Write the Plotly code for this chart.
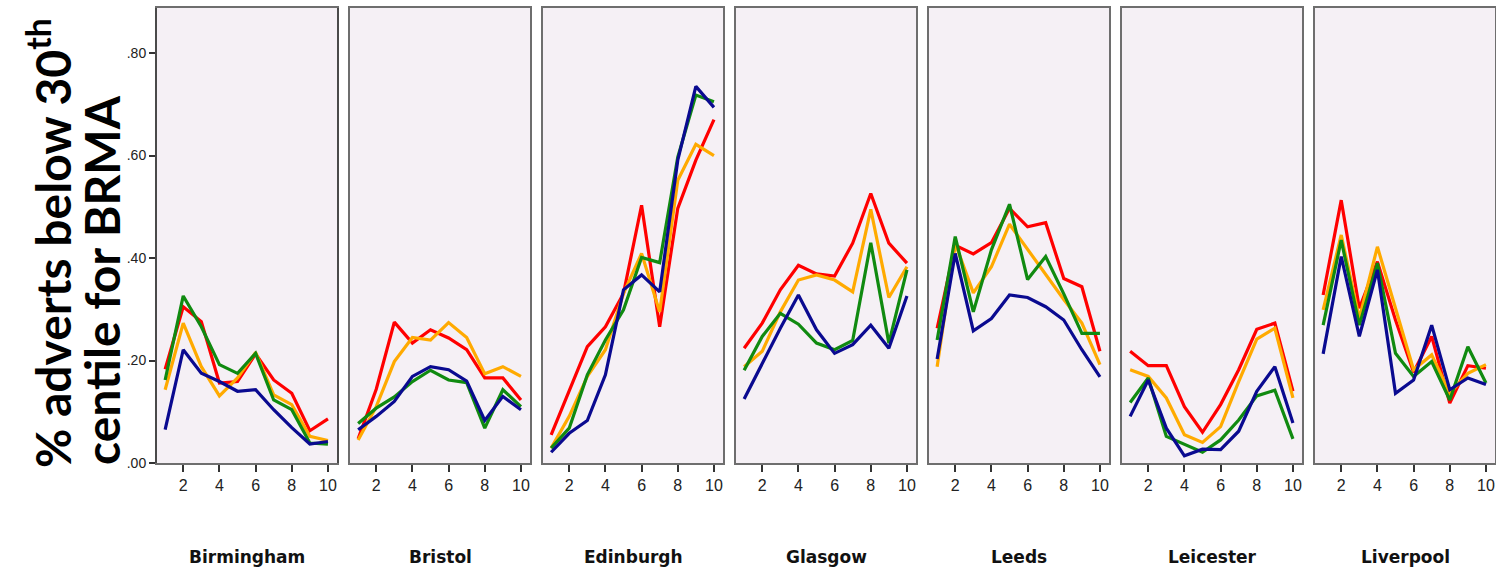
import plotly.graph_objects as go

cities = ["Birmingham", "Bristol", "Edinburgh", "Glasgow", "Leeds", "Leicester", "Liverpool"]
x_vals = [1, 2, 3, 4, 5, 6, 7, 8, 9, 10]

red = {
    "Birmingham": [0.183, 0.305, 0.276, 0.156, 0.159, 0.213, 0.162, 0.136, 0.063, 0.086],
    "Bristol":    [0.047, 0.144, 0.275, 0.234, 0.260, 0.244, 0.221, 0.166, 0.166, 0.123],
    "Edinburgh":  [0.055, 0.140, 0.227, 0.266, 0.331, 0.503, 0.266, 0.497, 0.591, 0.670],
    "Glasgow":    [0.224, 0.273, 0.338, 0.386, 0.369, 0.365, 0.429, 0.526, 0.429, 0.390],
    "Leeds":      [0.263, 0.425, 0.408, 0.430, 0.497, 0.461, 0.469, 0.360, 0.344, 0.218],
    "Leicester":  [0.218, 0.190, 0.190, 0.110, 0.060, 0.114, 0.182, 0.261, 0.273, 0.140],
    "Liverpool":  [0.328, 0.513, 0.302, 0.393, 0.279, 0.177, 0.247, 0.117, 0.190, 0.185],
}
orange = {
    "Birmingham": [0.143, 0.273, 0.188, 0.131, 0.166, 0.216, 0.133, 0.114, 0.052, 0.044],
    "Bristol":    [0.045, 0.110, 0.198, 0.245, 0.240, 0.274, 0.245, 0.174, 0.188, 0.169],
    "Edinburgh":  [0.029, 0.091, 0.169, 0.221, 0.331, 0.409, 0.295, 0.552, 0.622, 0.600],
    "Glasgow":    [0.188, 0.218, 0.295, 0.357, 0.367, 0.357, 0.334, 0.495, 0.323, 0.383],
    "Leeds":      [0.188, 0.429, 0.332, 0.383, 0.466, 0.417, 0.367, 0.319, 0.273, 0.192],
    "Leicester":  [0.182, 0.169, 0.127, 0.055, 0.040, 0.071, 0.159, 0.242, 0.263, 0.127],
    "Liverpool":  [0.299, 0.445, 0.282, 0.422, 0.302, 0.182, 0.211, 0.136, 0.175, 0.192],
}
green = {
    "Birmingham": [0.162, 0.326, 0.266, 0.192, 0.175, 0.214, 0.123, 0.104, 0.039, 0.037],
    "Bristol":    [0.077, 0.107, 0.129, 0.159, 0.181, 0.162, 0.157, 0.068, 0.143, 0.110],
    "Edinburgh":  [0.029, 0.068, 0.172, 0.240, 0.299, 0.401, 0.391, 0.597, 0.718, 0.705],
    "Glasgow":    [0.181, 0.247, 0.292, 0.271, 0.234, 0.221, 0.239, 0.430, 0.234, 0.377],
    "Leeds":      [0.240, 0.442, 0.295, 0.416, 0.505, 0.358, 0.403, 0.330, 0.253, 0.253],
    "Leicester":  [0.118, 0.166, 0.052, 0.036, 0.021, 0.045, 0.084, 0.131, 0.142, 0.047],
    "Liverpool":  [0.269, 0.435, 0.269, 0.390, 0.214, 0.169, 0.198, 0.123, 0.227, 0.156],
}
navy = {
    "Birmingham": [0.065, 0.221, 0.175, 0.159, 0.140, 0.143, 0.104, 0.069, 0.037, 0.042],
    "Bristol":    [0.065, 0.091, 0.120, 0.169, 0.188, 0.182, 0.160, 0.083, 0.130, 0.104],
    "Edinburgh":  [0.021, 0.058, 0.083, 0.172, 0.338, 0.367, 0.334, 0.591, 0.735, 0.694],
    "Glasgow":    [0.125, 0.195, 0.263, 0.328, 0.260, 0.214, 0.231, 0.269, 0.224, 0.326],
    "Leeds":      [0.203, 0.409, 0.258, 0.282, 0.328, 0.323, 0.305, 0.279, 0.221, 0.168],
    "Leicester":  [0.091, 0.162, 0.068, 0.014, 0.027, 0.026, 0.062, 0.140, 0.188, 0.078],
    "Liverpool":  [0.213, 0.403, 0.247, 0.377, 0.136, 0.162, 0.269, 0.143, 0.166, 0.153],
}

series = [("red", red, "#FF0000"), ("orange", orange, "#FFAA00"),
          ("green", green, "#108A10"), ("navy", navy, "#0A0A90")]
y_ticks = [0.0, 0.2, 0.4, 0.6, 0.8]
y_tick_text = [".00", ".20", ".40", ".60", ".80"]
x_ticks = [2, 4, 6, 8, 10]

W, H = 1496, 574
fig = go.Figure()

panel_left0 = 157
panel_step = 193
panel_w = 180
y_top_px, y_bot_px = 8, 463

for i, city in enumerate(cities):
    ax = "" if i == 0 else str(i + 1)
    for name, d, col in series:
        fig.add_trace(go.Scatter(
            x=x_vals, y=d[city], mode="lines",
            line=dict(color=col, width=3.2),
            xaxis="x" + ax, yaxis="y" + ax, showlegend=False, name=name,
        ))
    left = panel_left0 + panel_step * i
    xd = [left / W, (left + panel_w) / W]
    yd = [(H - y_bot_px) / H, (H - y_top_px) / H]
    fig.layout["xaxis" + ax] = dict(
        domain=xd, range=[0.55, 10.5], tickvals=x_ticks, ticks="outside",
        ticklen=7, tickwidth=2, tickcolor="#333333",
        showline=True, linecolor="#6E6E6E", linewidth=2, mirror=True,
        showgrid=False, zeroline=False, anchor="y" + ax, automargin=False,
        tickfont=dict(family="Liberation Sans, Arial", size=16, color="#222222"),
    )
    fig.layout["yaxis" + ax] = dict(
        domain=yd, range=[0, 0.888], tickvals=y_ticks,
        ticktext=y_tick_text,
        ticks="outside" if i == 0 else "", ticklen=6, tickwidth=2, tickcolor="#333333",
        showticklabels=(i == 0),
        showline=True, linecolor="#4A4A4A" if i == 0 else "#6E6E6E", linewidth=2, mirror=True,
        showgrid=False, zeroline=False, anchor="x" + ax, automargin=False,
        tickfont=dict(family="Liberation Sans, Arial", size=14, color="#222222"),
    )
    fig.add_annotation(
        x=(left + panel_w / 2) / W, y=(H - 557) / H, xref="paper", yref="paper",
        text="<b>" + city + "</b>", showarrow=False, xanchor="center", yanchor="middle",
        font=dict(family="DejaVu Sans, Verdana", size=17, color="#111111"),
    )

fig.add_annotation(
    x=50 / W, y=(H - 243) / H, xref="paper", yref="paper",
    text="<b>% adverts below 30<sup>th</sup></b>", textangle=-90, showarrow=False,
    xanchor="center", yanchor="middle",
    font=dict(family="Lato, Open Sans", size=48, color="#000000"),
)
fig.add_annotation(
    x=101 / W, y=(H - 280) / H, xref="paper", yref="paper",
    text="<b>centile for BRMA</b>", textangle=-90, showarrow=False,
    xanchor="center", yanchor="middle",
    font=dict(family="Lato, Open Sans", size=48, color="#000000"),
)

fig.update_layout(
    width=W, height=H, margin=dict(l=0, r=0, t=0, b=0),
    paper_bgcolor="#FFFFFF", plot_bgcolor="#F5F0F5",
)
fig.write_html(
    "out.html",
    config={"displayModeBar": False},
    post_script="document.body.style.margin='0';document.body.style.overflow='hidden';",
)
